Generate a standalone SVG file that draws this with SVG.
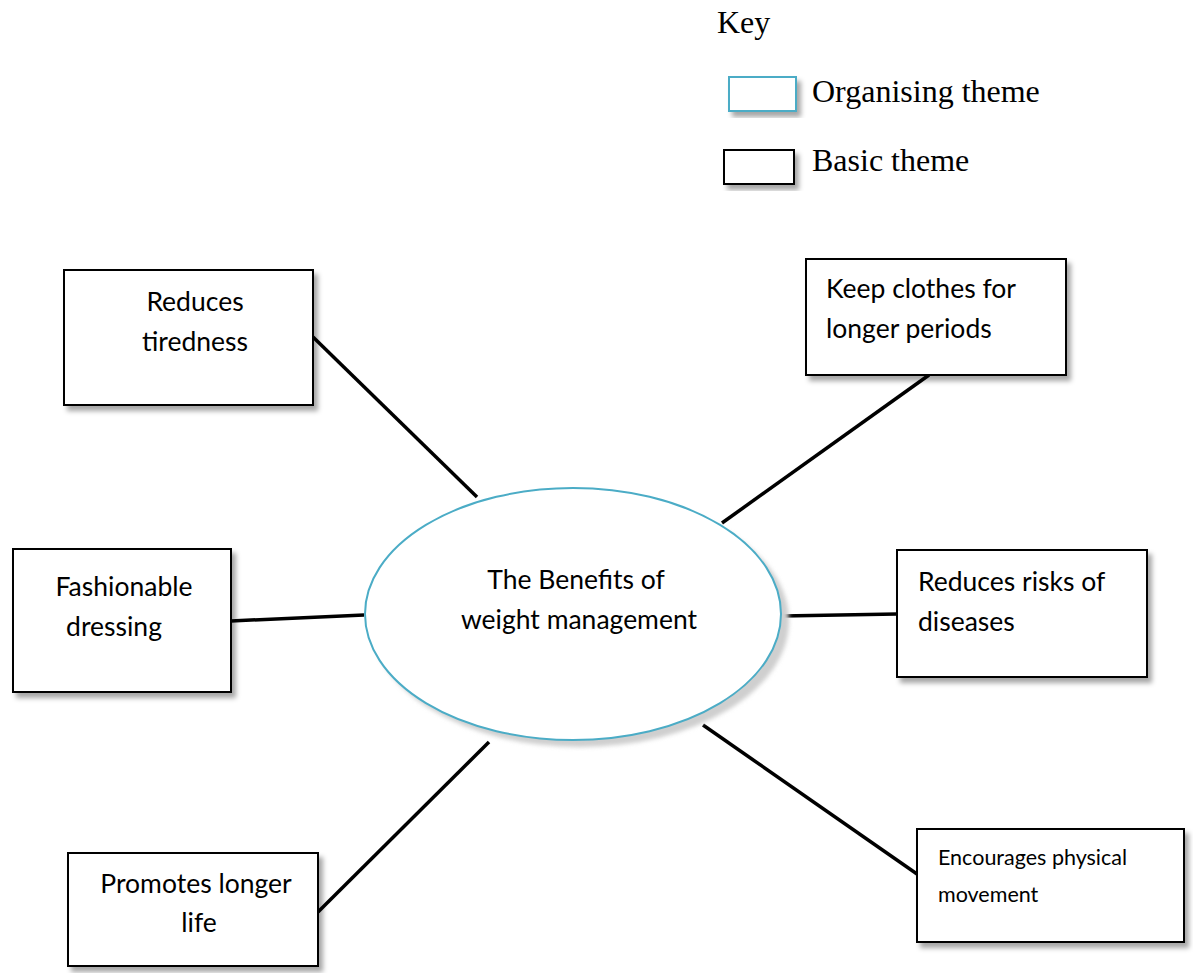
<svg xmlns="http://www.w3.org/2000/svg" width="1193" height="973" viewBox="0 0 1193 973">
<defs>
<filter id="sh" x="-10%" y="-10%" width="130%" height="130%">
<feDropShadow dx="4" dy="5" stdDeviation="2.5" flood-color="#000" flood-opacity="0.35"/>
</filter>
<filter id="blur" x="-10%" y="-10%" width="120%" height="120%">
<feGaussianBlur stdDeviation="2"/>
</filter>
<style>
.box{fill:#fff;stroke:#000;stroke-width:2;filter:url(#sh)}
.obox{fill:#fff;stroke:#4bacc6;stroke-width:2;filter:url(#sh)}
.t{font-family:Lato,"Open Sans",sans-serif;font-size:26.5px;fill:#000}
.ts{font-family:Lato,"Open Sans",sans-serif;font-size:21.5px;fill:#000}
.k{font-family:"Liberation Serif",serif;font-size:32px;fill:#000}
.c{stroke:#000;stroke-width:3.5;fill:none}
</style>
</defs>
<rect width="1193" height="973" fill="#fff"/>
<g id="key">
<text class="k" x="717" y="33">Key</text>
<rect class="obox" x="729" y="77" width="67" height="34"/>
<text class="k" x="812" y="102">Organising theme</text>
<rect class="box" x="724" y="150" width="70" height="34"/>
<text class="k" x="812" y="171">Basic theme</text>
</g>
<g id="connectors">
<line class="c" x1="313" y1="337" x2="477" y2="497"/>
<line class="c" x1="929" y1="375" x2="722" y2="523"/>
<line class="c" x1="231" y1="621" x2="364" y2="615"/>
<line class="c" x1="782" y1="616" x2="897" y2="614"/>
<line class="c" x1="318" y1="912" x2="489" y2="742"/>
<line class="c" x1="703" y1="725" x2="917" y2="874"/>
</g>
<g id="center">
<ellipse cx="580" cy="621" rx="209" ry="126" fill="#cfcfcf" filter="url(#blur)"/>
<ellipse cx="573" cy="614" rx="208" ry="126" fill="#fff" stroke="#4bacc6" stroke-width="2"/>
<text class="t" x="576" y="589" text-anchor="middle">The Benefits of</text>
<text class="t" x="579" y="629" text-anchor="middle">weight management</text>
</g>
<g id="n1">
<rect class="box" x="64" y="270" width="249" height="135"/>
<text class="t" x="195" y="311" text-anchor="middle">Reduces</text>
<text class="t" x="195" y="351" text-anchor="middle">tiredness</text>
</g>
<g id="n2">
<rect class="box" x="806" y="259" width="260" height="116"/>
<text class="t" x="826" y="298">Keep clothes for</text>
<text class="t" x="826" y="338">longer periods</text>
</g>
<g id="n3">
<rect class="box" x="13" y="549" width="218" height="143"/>
<text class="t" x="124" y="596" text-anchor="middle">Fashionable</text>
<text class="t" x="114" y="636" text-anchor="middle">dressing</text>
</g>
<g id="n4">
<rect class="box" x="897" y="550" width="250" height="127"/>
<text class="t" x="918" y="591">Reduces risks of</text>
<text class="t" x="918" y="631">diseases</text>
</g>
<g id="n5">
<rect class="box" x="68" y="853" width="250" height="113"/>
<text class="t" x="196" y="893" text-anchor="middle">Promotes longer</text>
<text class="t" x="199" y="932" text-anchor="middle">life</text>
</g>
<g id="n6">
<rect class="box" x="917" y="829" width="267" height="113"/>
<text class="ts" x="938" y="865">Encourages physical</text>
<text class="ts" x="938" y="902">movement</text>
</g>
</svg>
